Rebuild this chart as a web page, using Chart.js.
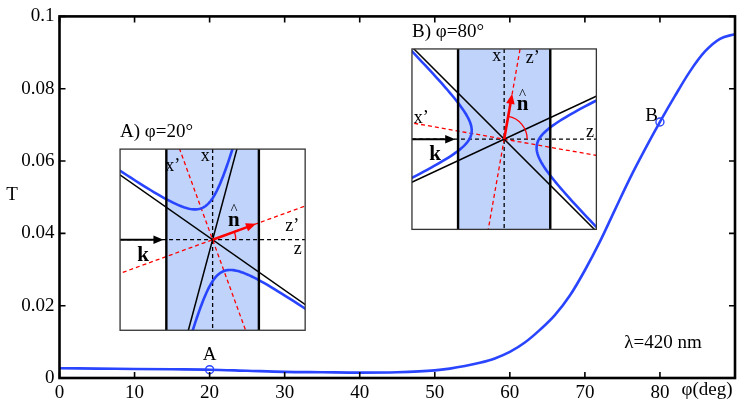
<!DOCTYPE html>
<html>
<head>
<meta charset="utf-8">
<script src="https://cdn.jsdelivr.net/npm/chart.js@4.4.1/dist/chart.umd.min.js"></script>
<style>
    body { margin: 0; background: #fff; }
    #wrap { width: 747px; height: 412px; }
    #fontprobe { position: absolute; left: -1000px; top: 0; font-family: "Liberation Serif"; }
</style>
</head>
<body>
<div id="wrap"><canvas id="grafica"></canvas></div>
<span id="fontprobe">T 0.08 φ=20° <b>k n</b></span>
<script>
// data
const phiDeg = [0, 5, 10, 15, 20, 25, 30, 35, 40, 45, 50, 52, 54, 56, 58, 60, 62, 64, 66, 68, 70, 72, 74, 76, 78, 80, 82, 84, 86, 88, 90];
const transmission = [0.0027, 0.0026, 0.0025, 0.0024, 0.0023, 0.0020, 0.0017, 0.0016, 0.0015, 0.0016, 0.0021, 0.0026, 0.0033, 0.0042, 0.0054, 0.0072, 0.0098, 0.0133, 0.0174, 0.0228, 0.0298, 0.0377, 0.0465, 0.0552, 0.0632, 0.0708, 0.0780, 0.0848, 0.0903, 0.0938, 0.0951];
const markerLabels = ['A', 'B'];
const markerPhi = [20, 80];
const markerT = [0.0023, 0.0708];
const xTicks = [0, 10, 20, 30, 40, 50, 60, 70, 80];
const yTicks = [0, 0.02, 0.04, 0.06, 0.08, 0.1];
const insetTitles = ['A) φ=20°', 'B) φ=80°'];
const insetAngles = [20, 80];

const SERIF = '"Liberation Serif", "Times New Roman", Times, serif';
const BLUE = '#2a45ff';

Chart.defaults.font.family = SERIF;
Chart.defaults.font.size = 19;
Chart.defaults.color = '#000';

// inset boxes in data units (phi, T)
const insetBoxes = [
    { left: 8.07, right: 32.73, top: 0.0633, bottom: 0.0132 },
    { left: 46.96, right: 71.53, top: 0.0910, bottom: 0.0411 }
];
// label offsets inside an inset, in half-box units (screen y down)
const insetLabels = [
    [['x’', -0.43, -0.79], ['x', -0.08, -0.9], ['z’', 0.86, -0.15], ['z', 0.92, 0.1]],
    [['x', -0.08, -0.9], ['z’', 0.31, -0.88], ['x’', -0.9, -0.23], ['z', 0.93, -0.08]]
];
const nLabelPos = [[0.23, -0.21], [0.2, -0.37]];

function arrow(ctx, x1, y1, x2, y2, head) {
    const ang = Math.atan2(y2 - y1, x2 - x1);
    ctx.beginPath();
    ctx.moveTo(x1, y1);
    ctx.lineTo(x2 - Math.cos(ang) * head * 0.8, y2 - Math.sin(ang) * head * 0.8);
    ctx.stroke();
    ctx.beginPath();
    ctx.moveTo(x2, y2);
    ctx.lineTo(x2 - head * Math.cos(ang - 0.4), y2 - head * Math.sin(ang - 0.4));
    ctx.lineTo(x2 - head * Math.cos(ang + 0.4), y2 - head * Math.sin(ang + 0.4));
    ctx.closePath();
    ctx.fill();
}

function drawInset(ctx, xs, ys, i) {
    const b = insetBoxes[i];
    const L = xs.getPixelForValue(b.left), R = xs.getPixelForValue(b.right);
    const T = ys.getPixelForValue(b.top), B = ys.getPixelForValue(b.bottom);
    const cx = (L + R) / 2, cy = (T + B) / 2;
    const u = (R - L) / 2;
    const phi = insetAngles[i] * Math.PI / 180;
    const ex = [Math.cos(phi + Math.PI / 2), Math.sin(phi + Math.PI / 2)];
    const ez = [Math.cos(phi), Math.sin(phi)];
    const P = (a, c) => [cx + a * u, cy - c * u];
    const lineThrough = (ang) => {
        const dx = Math.cos(ang) * 3 * u, dy = Math.sin(ang) * 3 * u;
        ctx.beginPath();
        ctx.moveTo(cx - dx, cy + dy);
        ctx.lineTo(cx + dx, cy - dy);
        ctx.stroke();
    };

    // title
    ctx.fillStyle = '#000';
    ctx.font = '19px ' + SERIF;
    ctx.textAlign = 'left';
    ctx.textBaseline = 'alphabetic';
    ctx.fillText(insetTitles[i], L, T - 12);

    ctx.save();
    ctx.beginPath();
    ctx.rect(L, T, R - L, B - T);
    ctx.clip();
    ctx.fillStyle = '#fff';
    ctx.fillRect(L, T, R - L, B - T);
    ctx.fillStyle = '#bfd3fb';
    ctx.fillRect(cx - 0.5 * u, T, u, B - T);

    // lab axes
    ctx.setLineDash([4, 3]);
    ctx.lineWidth = 1.3;
    ctx.strokeStyle = '#000';
    ctx.beginPath();
    ctx.moveTo(cx, T); ctx.lineTo(cx, B);
    ctx.moveTo(L, cy); ctx.lineTo(R, cy);
    ctx.stroke();
    // rotated axes
    ctx.strokeStyle = '#ff0000';
    lineThrough(phi);
    lineThrough(phi + Math.PI / 2);
    ctx.setLineDash([]);

    // asymptotes
    const half = 35 * Math.PI / 180;
    ctx.strokeStyle = '#000';
    ctx.lineWidth = 1.5;
    lineThrough(phi + Math.PI / 2 + half);
    lineThrough(phi + Math.PI / 2 - half);

    // hyperbola branches
    const a = 0.36, bb = a / Math.tan(Math.PI / 2 - half);
    ctx.strokeStyle = BLUE;
    ctx.lineWidth = 2.6;
    [1, -1].forEach(s => {
        ctx.beginPath();
        for (let k = 0; k <= 120; k++) {
            const t = -3.2 + 6.4 * k / 120;
            const xp = s * a * Math.cosh(t), zp = bb * Math.sinh(t);
            const p = P(xp * ex[0] + zp * ez[0], xp * ex[1] + zp * ez[1]);
            if (k === 0) ctx.moveTo(p[0], p[1]); else ctx.lineTo(p[0], p[1]);
        }
        ctx.stroke();
    });

    // slab faces
    ctx.strokeStyle = '#000';
    ctx.lineWidth = 2.4;
    ctx.beginPath();
    ctx.moveTo(cx - 0.5 * u, T); ctx.lineTo(cx - 0.5 * u, B);
    ctx.moveTo(cx + 0.5 * u, T); ctx.lineTo(cx + 0.5 * u, B);
    ctx.stroke();

    // incident k
    ctx.fillStyle = '#000';
    ctx.lineWidth = 2;
    arrow(ctx, L, cy, cx - 0.53 * u, cy, 11);

    // n-hat arrow and angle arc
    ctx.strokeStyle = '#ff0000';
    ctx.fillStyle = '#ff0000';
    ctx.lineWidth = 2.6;
    const tip = P(0.5 * ez[0], 0.5 * ez[1]);
    arrow(ctx, cx, cy, tip[0], tip[1], 11);
    ctx.lineWidth = 1.3;
    ctx.beginPath();
    ctx.arc(cx, cy, 0.25 * u, -phi, 0);
    ctx.stroke();
    ctx.restore();

    // border
    ctx.strokeStyle = '#333';
    ctx.lineWidth = 1.3;
    ctx.strokeRect(L, T, R - L, B - T);

    // labels
    ctx.fillStyle = '#000';
    ctx.font = '18px ' + SERIF;
    ctx.textAlign = 'center';
    ctx.textBaseline = 'middle';
    insetLabels[i].forEach(([txt, dx, dy]) => {
        ctx.fillText(txt, cx + dx * u, cy + dy * u);
    });
    ctx.font = 'bold 21px ' + SERIF;
    ctx.fillText('k', cx - 0.75 * u, cy + 0.17 * u);
    const n = nLabelPos[i];
    ctx.fillText('n', cx + n[0] * u, cy + n[1] * u);
    ctx.font = '15px ' + SERIF;
    ctx.fillText('^', cx + n[0] * u, cy + n[1] * u - 10);
}

const framePlugin = {
    id: 'frame',
    afterDatasetsDraw(chart) {
        const ctx = chart.ctx;
        const xs = chart.scales.x, ys = chart.scales.y;
        const area = chart.chartArea;
        ctx.save();

        insetTitles.forEach((_, i) => drawInset(ctx, xs, ys, i));

        // marker labels
        ctx.fillStyle = '#000';
        ctx.font = '19px ' + SERIF;
        ctx.textBaseline = 'middle';
        ctx.textAlign = 'center';
        let px = xs.getPixelForValue(markerPhi[0]), py = ys.getPixelForValue(markerT[0]);
        ctx.fillText(markerLabels[0], px, py - 15);
        px = xs.getPixelForValue(markerPhi[1]); py = ys.getPixelForValue(markerT[1]);
        ctx.textAlign = 'right';
        ctx.fillText(markerLabels[1], px - 2, py - 6);

        // axis box with inward ticks
        ctx.strokeStyle = '#000';
        ctx.lineWidth = 2.6;
        ctx.strokeRect(area.left, area.top, area.right - area.left, area.bottom - area.top);
        ctx.lineWidth = 1.6;
        ctx.beginPath();
        xTicks.forEach(v => {
            const x = xs.getPixelForValue(v);
            ctx.moveTo(x, area.bottom); ctx.lineTo(x, area.bottom - 6);
            ctx.moveTo(x, area.top); ctx.lineTo(x, area.top + 6);
        });
        yTicks.forEach(v => {
            const y = ys.getPixelForValue(v);
            ctx.moveTo(area.left, y); ctx.lineTo(area.left + 6, y);
            ctx.moveTo(area.right, y); ctx.lineTo(area.right - 6, y);
        });
        ctx.stroke();

        // axis names and note
        ctx.font = '19px ' + SERIF;
        ctx.textAlign = 'center';
        ctx.fillText('T', 12, 195);
        ctx.fillText('φ(deg)', 707, 390);
        ctx.fillText('λ=420 nm', 663, 343);
        ctx.restore();
    }
};

function buildChart() {
    new Chart(document.getElementById('grafica'), {
        type: 'line',
        data: {
            datasets: [
                {
                    data: phiDeg.map((p, i) => ({ x: p, y: transmission[i] })),
                    borderColor: BLUE,
                    borderWidth: 2.6,
                    pointRadius: 0,
                    cubicInterpolationMode: 'monotone',
                    fill: false
                },
                {
                    data: markerPhi.map((p, i) => ({ x: p, y: markerT[i] })),
                    showLine: false,
                    pointRadius: 4,
                    pointBorderWidth: 1.4,
                    pointBorderColor: BLUE,
                    pointBackgroundColor: 'rgba(0,0,0,0)'
                }
            ]
        },
        options: {
            responsive: true,
            maintainAspectRatio: false,
            animation: false,
            layout: { padding: { top: 8, right: 12, left: 0, bottom: 0 } },
            plugins: { legend: { display: false }, tooltip: { enabled: false } },
            scales: {
                x: {
                    type: 'linear', min: 0, max: 90,
                    grid: { display: false, drawTicks: false },
                    border: { display: false },
                    afterFit: s => { s.height = 34; },
                    afterBuildTicks: s => { s.ticks = xTicks.map(v => ({ value: v })); },
                    ticks: { padding: 4, color: '#000', font: { family: SERIF, size: 19 }, maxRotation: 0 }
                },
                y: {
                    type: 'linear', min: 0, max: 0.1,
                    grid: { display: false, drawTicks: false },
                    border: { display: false },
                    afterFit: s => { s.width = 59.5; },
                    afterBuildTicks: s => { s.ticks = yTicks.map(v => ({ value: v })); },
                    ticks: { padding: 5, color: '#000', font: { family: SERIF, size: 19 },
                             callback: v => String(+v.toFixed(2)) }
                }
            }
        },
        plugins: [framePlugin]
    });
}

Promise.all([
    document.fonts.load('19px "Liberation Serif"'),
    document.fonts.load('bold 19px "Liberation Serif"')
]).then(buildChart, buildChart);
</script>
</body>
</html>
